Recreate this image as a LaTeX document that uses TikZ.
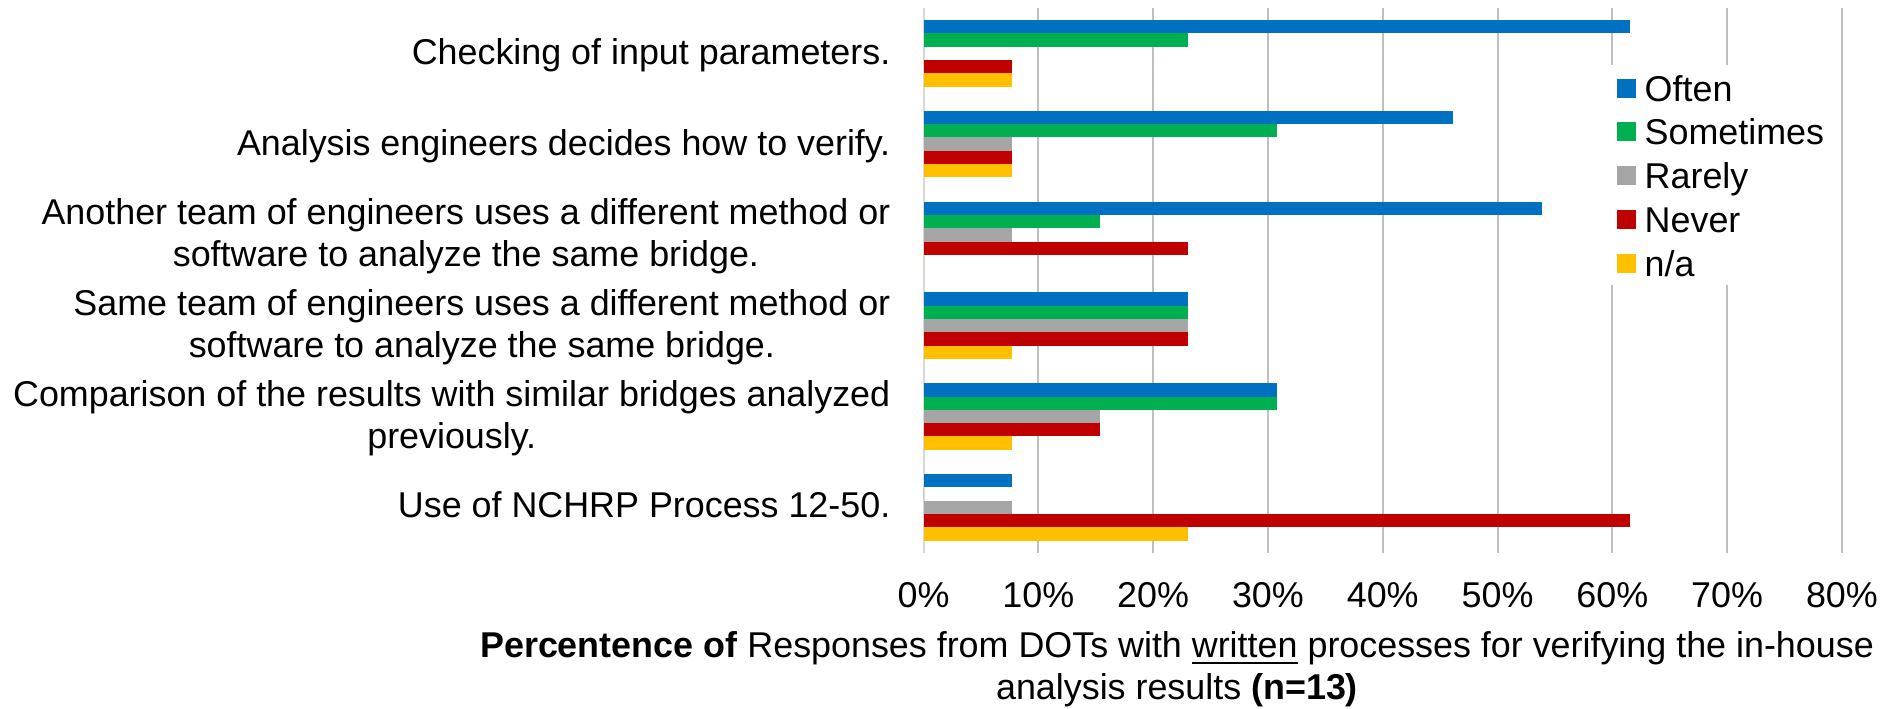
\documentclass[tikz,border=0pt]{standalone}
\usepackage{fontspec}
\setmainfont{Liberation Sans}
\definecolor{often}{RGB}{0,112,192}
\definecolor{sometimes}{RGB}{0,176,80}
\definecolor{rarely}{RGB}{165,165,165}
\definecolor{never}{RGB}{192,0,0}
\definecolor{na}{RGB}{255,192,0}
\definecolor{gridgray}{RGB}{191,191,191}
\definecolor{axisgray}{RGB}{217,217,217}

\begin{document}
\begin{tikzpicture}[x=0.01cm, y=-0.01cm,
    every node/.style={inner sep=0pt, font=\fontsize{10.2}{12}\selectfont},
    gridline/.style={draw=gridgray, line width=0.57pt},
    catlabel/.style={anchor=east, align=center},
    ticklabel/.style={anchor=base},
    legendkey/.style={minimum size=0.19cm}
]
    \useasboundingbox (0,0) rectangle (1901,708);

    % vertical grid
    \draw[gridline, draw=axisgray] (923.5,8) -- (923.5,553);
    \foreach \k in {1,...,8}
        \draw[gridline] ({923.5+114.8*\k},8) -- ++(0,545);

    % legend background
    \fill[white] (1605,65) rectangle (1835,285);

    % bars: counts out of 13 for often/sometimes/rarely/never/na
    \foreach \g/\a/\b/\c/\d/\e in {0/8/3/0/1/1, 1/6/4/1/1/1, 2/7/2/1/3/0,
                                   3/3/3/3/3/1, 4/4/4/2/2/1, 5/1/0/1/8/3}
        \foreach \s/\n/\col in {0/\a/often, 1/\b/sometimes, 2/\c/rarely, 3/\d/never, 4/\e/na}
            \fill[\col] (923.5,{20+90.8*\g+13.3*\s}) rectangle ++({88.31*\n},13.3);

    % category labels
    \node[catlabel] (check) at (891,55) {Checking of input parameters.};
    \node[catlabel] (analysis) at (891,145.8) {Analysis engineers decides how to verify.};
    \node[catlabel] (another) at (891,236.6) {Another team of engineers uses a different method or\\software to analyze the same bridge.};
    \node[catlabel] (same) at (891,327.4) {Same team of engineers uses a different method or\\software to analyze the same bridge.};
    \node[catlabel] (compare) at (891,418.2) {Comparison of the results with similar bridges analyzed\\previously.};
    \node[catlabel] (nchrp) at (891,505) {Use of NCHRP Process 12-50.};

    % axis ticks
    \foreach \k/\p in {0/0,1/10,2/20,3/30,4/40,5/50,6/60,7/70,8/80}
        \node[ticklabel] (tick\k) at ({923.5+114.8*\k},607) {\p\%};

    \node[anchor=north, align=center] (title) at (1177,631)
        {\textbf{Percentence of} Responses from DOTs with \underline{written} processes for verifying the in-house\\analysis results \textbf{(n=13)}};

    % legend
    \foreach \i/\col/\txt in {0/often/Often, 1/sometimes/Sometimes, 2/rarely/Rarely, 3/never/Never, 4/na/{n/a}} {
        \node[legendkey, fill=\col] (key\i) at (1626.5,{88+43.8*\i}) {};
        \node[anchor=base west] (entry\i) at (1644,{101+43.8*\i}) {\txt};
    }
\end{tikzpicture}
\end{document}
